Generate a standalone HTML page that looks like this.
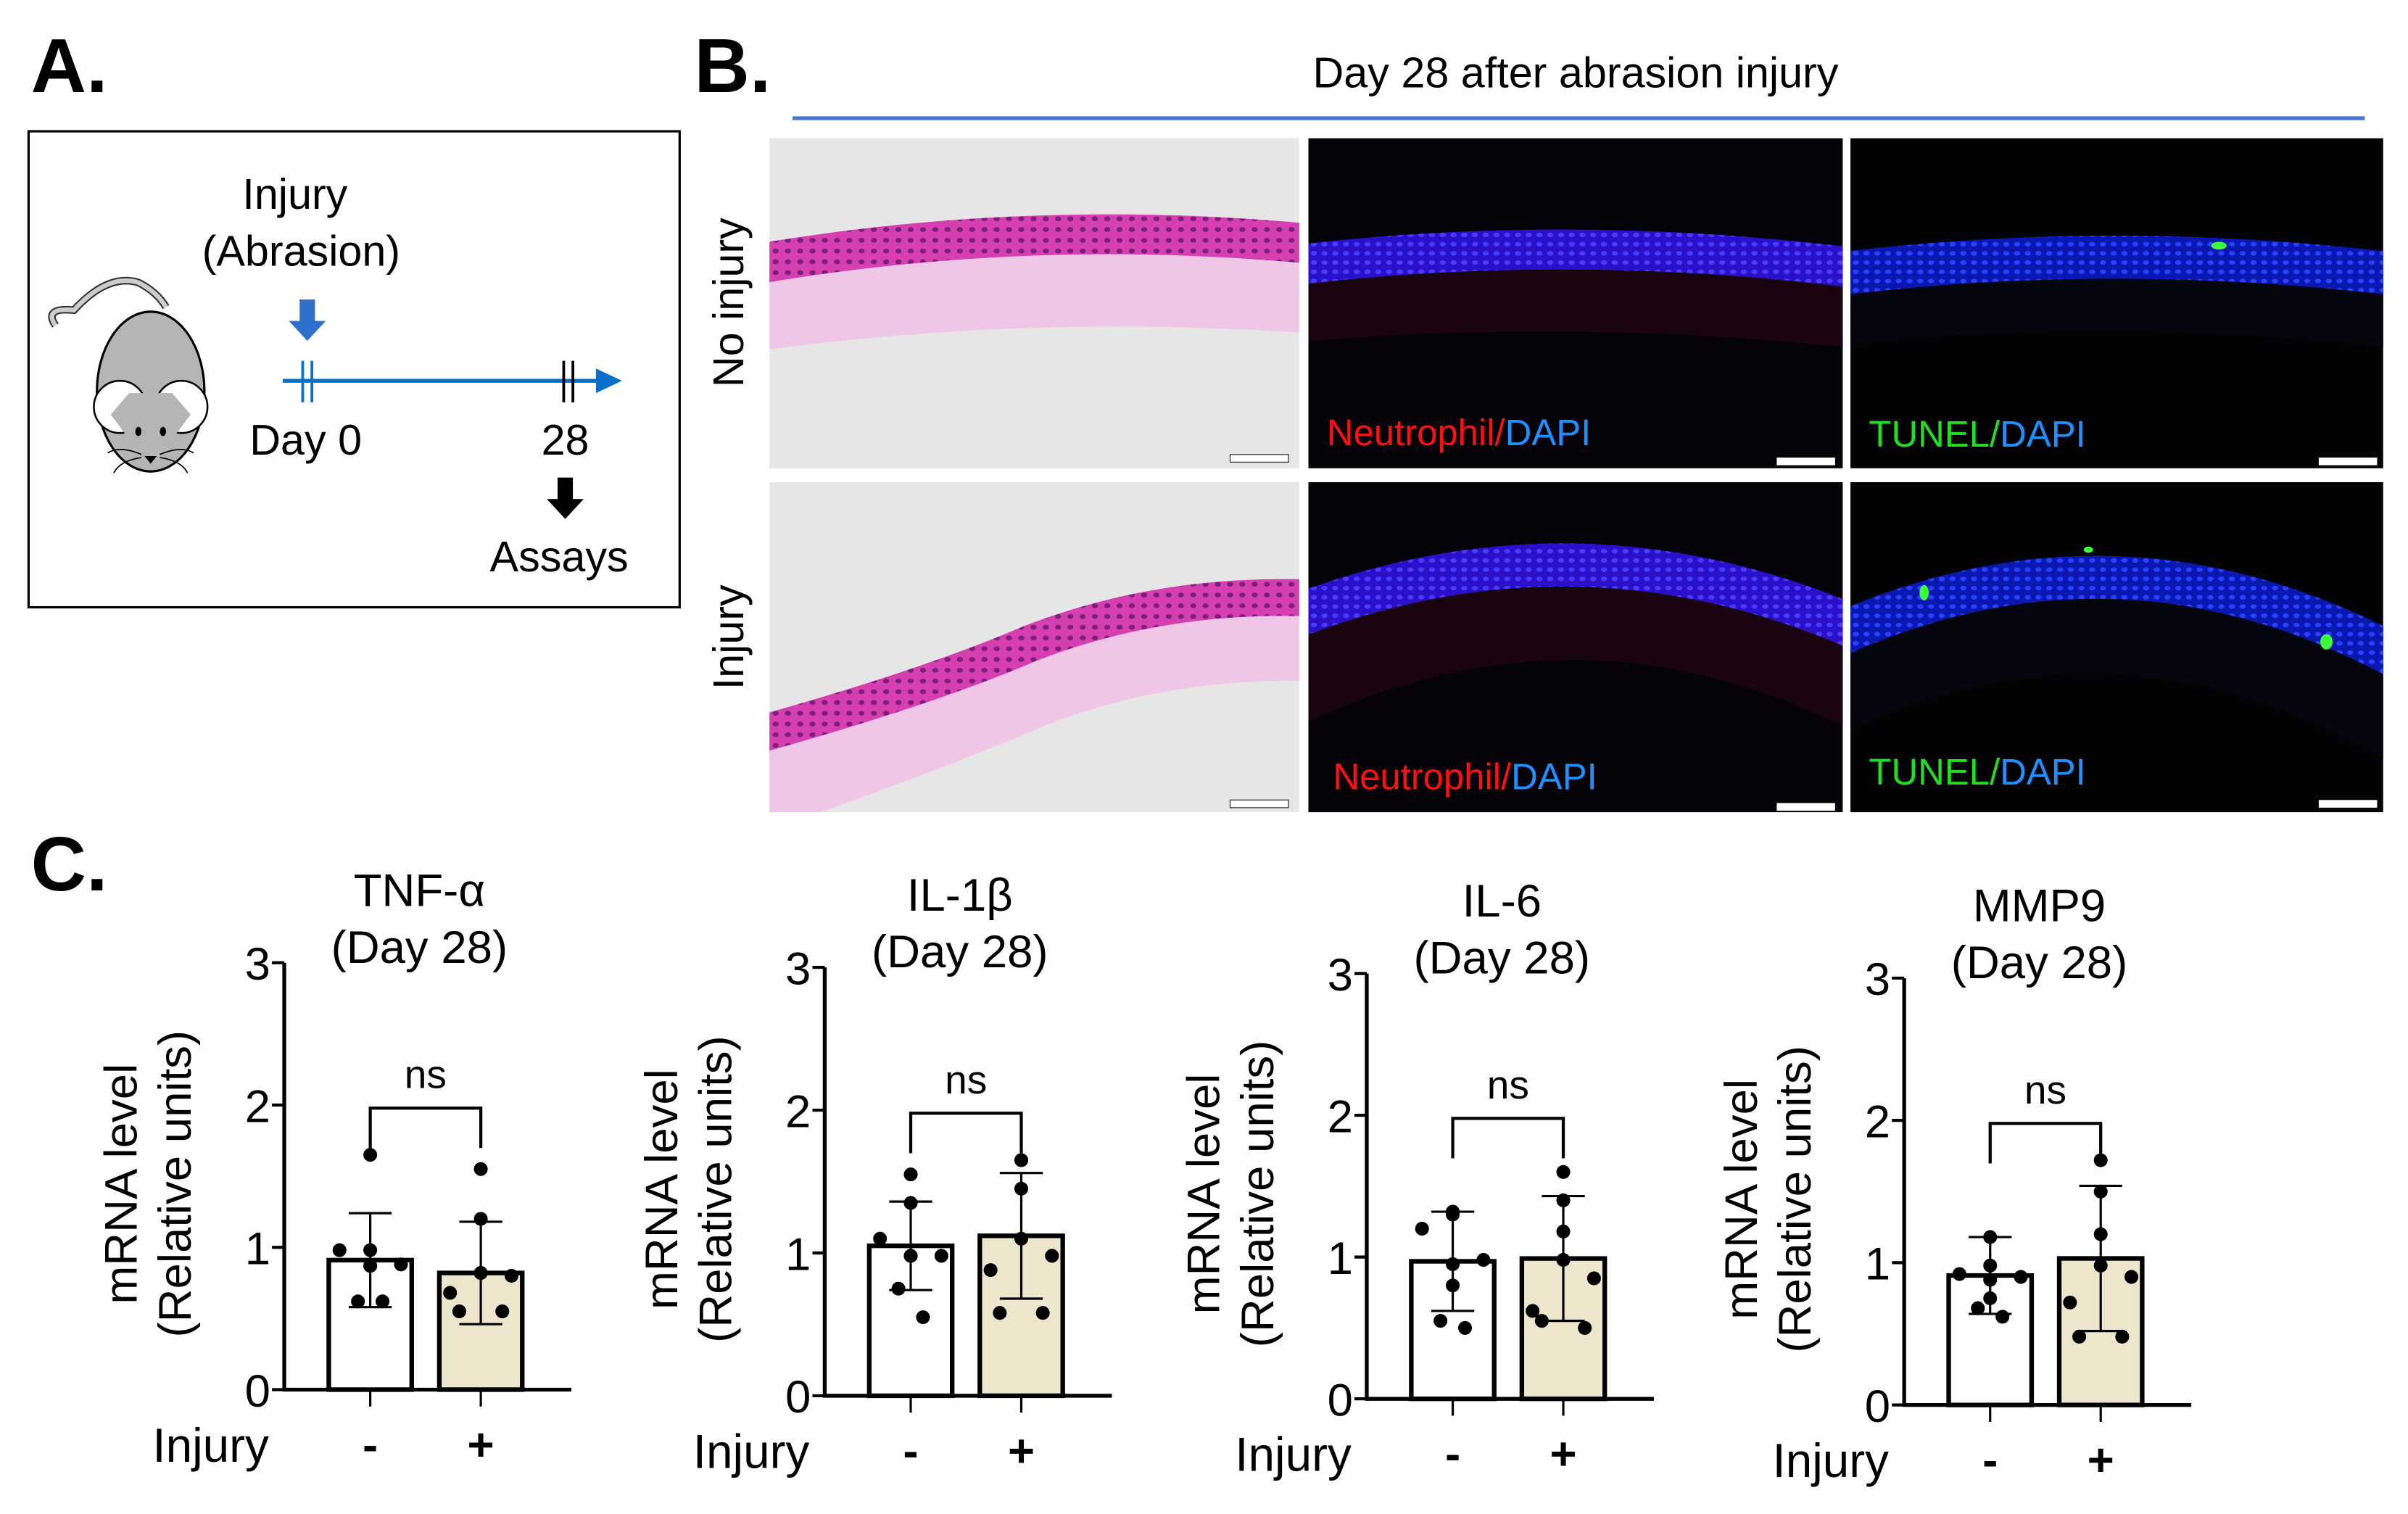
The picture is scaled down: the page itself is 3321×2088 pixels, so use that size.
<!DOCTYPE html>
<html><head><meta charset="utf-8"><style>
html,body{margin:0;padding:0;background:#fff}
svg{display:block;font-family:"Liberation Sans",Arial,sans-serif}
</style></head><body>
<svg id="fig" width="3321" height="2088" viewBox="0 0 1568 986" xmlns="http://www.w3.org/2000/svg">
<defs>
<pattern id="nucP" width="8" height="7" patternUnits="userSpaceOnUse"><rect width="8" height="7" fill="#d63fb0"/><ellipse cx="4" cy="3.5" rx="2" ry="1.6" fill="#7a1f7a"/></pattern>
<pattern id="nucB" width="7" height="6" patternUnits="userSpaceOnUse"><rect width="7" height="6" fill="#2a10c8"/><ellipse cx="3.5" cy="3" rx="2" ry="1.5" fill="#4a3cff"/></pattern>
<pattern id="nucB2" width="7" height="6" patternUnits="userSpaceOnUse"><rect width="7" height="6" fill="#0a18b0"/><ellipse cx="3.5" cy="3" rx="2" ry="1.5" fill="#2a40ff"/></pattern>
</defs>

<!-- Panel A -->
<text x="20" y="60" font-size="50" font-weight="bold">A.</text>
<rect x="18.5" y="85.5" width="424" height="310" fill="none" stroke="#000" stroke-width="1.5"/>
<g>
<path d="M36,212 Q28,200 48,202 Q70,178 90,184 Q102,190 108,200" fill="none" stroke="#333" stroke-width="5"/>
<path d="M36,212 Q28,200 48,202 Q70,178 90,184 Q102,190 108,200" fill="none" stroke="#ccc" stroke-width="3"/>
<ellipse cx="98" cy="255" rx="35" ry="52" fill="#b5b5b5" stroke="#000" stroke-width="1.5"/>
<circle cx="78" cy="265" r="17" fill="#fff" stroke="#000" stroke-width="1.2"/>
<circle cx="118" cy="265" r="17" fill="#fff" stroke="#000" stroke-width="1.2"/>
<path d="M72,270 L98,305 L124,270 L112,256 L84,256 Z" fill="#b5b5b5"/>
<ellipse cx="90" cy="281" rx="2" ry="3" fill="#000"/><ellipse cx="106" cy="281" rx="2" ry="3" fill="#000"/>
<path d="M94,297 L102,297 L98,302 Z" fill="#000"/>
<path d="M92,296 Q78,290 70,295 M92,298 Q78,300 74,308 M104,296 Q118,290 126,295 M104,298 Q118,300 122,308" stroke="#000" fill="none" stroke-width="0.8"/>
</g>
<text x="192" y="136" font-size="28" text-anchor="middle">Injury</text>
<text x="196" y="173" font-size="28" text-anchor="middle">(Abrasion)</text>
<path d="M195,195 h10 v14 h7 l-12,13 l-12,-13 h7 z" fill="#2f6fce"/>
<line x1="184" y1="248" x2="390" y2="248" stroke="#0a6fc7" stroke-width="2.5"/>
<path d="M388,240 L405,248 L388,256 Z" fill="#0a6fc7"/>
<line x1="197" y1="235" x2="197" y2="262" stroke="#0a6fc7" stroke-width="1.8"/><line x1="203" y1="235" x2="203" y2="262" stroke="#0a6fc7" stroke-width="1.8"/>
<line x1="367" y1="235" x2="367" y2="262" stroke="#000" stroke-width="1.8"/><line x1="373" y1="235" x2="373" y2="262" stroke="#000" stroke-width="1.8"/>
<text x="199" y="296" font-size="28" text-anchor="middle">Day 0</text>
<text x="368" y="296" font-size="28" text-anchor="middle">28</text>
<path d="M363,311 h10 v14 h7 l-12,13 l-12,-13 h7 z" fill="#000"/>
<text x="364" y="372" font-size="28" text-anchor="middle">Assays</text>

<!-- Panel B -->
<text x="452" y="60" font-size="50" font-weight="bold">B.</text>
<text x="1026" y="57" font-size="28" text-anchor="middle">Day 28 after abrasion injury</text>
<line x1="516" y1="77" x2="1540" y2="77" stroke="#4a78d4" stroke-width="2.5"/>
<text transform="translate(484,197) rotate(-90)" font-size="28" text-anchor="middle">No injury</text>
<text transform="translate(484,415) rotate(-90)" font-size="28" text-anchor="middle">Injury</text>

<!-- row 1 -->
<svg x="501" y="90" width="345" height="215" overflow="hidden">
<rect width="345" height="215" fill="#e6e6e6"/>
<path d="M-20,112 Q170,85 365,100" stroke="#f0c6e6" stroke-width="56" fill="none"/>
<path d="M-20,84 Q170,50 365,70" stroke="url(#nucP)" stroke-width="26" fill="none"/>
<rect x="300" y="206" width="38" height="5" fill="#fff" stroke="#333" stroke-width="0.6"/>
</svg>
<svg x="852" y="90" width="348" height="215" overflow="hidden">
<rect width="348" height="215" fill="#050208"/>
<path d="M-20,110 Q170,92 368,114" stroke="#1a0410" stroke-width="48" fill="none"/>
<path d="M-20,84 Q170,60 368,86" stroke="url(#nucB)" stroke-width="26" fill="none"/>
<text x="12" y="200" font-size="24"><tspan fill="#ff1010">Neutrophil/</tspan><tspan fill="#1e90ff">DAPI</tspan></text>
<rect x="305" y="208" width="38" height="5" fill="#fff"/>
</svg>
<svg x="1205" y="90" width="347" height="215" overflow="hidden">
<rect width="347" height="215" fill="#030306"/>
<path d="M-20,112 Q170,90 367,114" stroke="#05060e" stroke-width="48" fill="none"/>
<path d="M-20,90 Q170,65 367,90" stroke="url(#nucB2)" stroke-width="28" fill="none"/>
<ellipse cx="240" cy="70" rx="5" ry="2.5" fill="#3cff3c"/>
<text x="12" y="201" font-size="24"><tspan fill="#20e020">TUNEL/</tspan><tspan fill="#1e90ff">DAPI</tspan></text>
<rect x="305" y="208" width="38" height="5" fill="#fff"/>
</svg>
<!-- row 2 -->
<svg x="501" y="314" width="345" height="215" overflow="hidden">
<rect width="345" height="215" fill="#e6e6e6"/>
<path d="M-20,202 Q100,160 170,130 Q260,95 365,100" stroke="#f0c6e6" stroke-width="60" fill="none"/>
<path d="M-20,168 Q100,135 170,105 Q260,70 365,76" stroke="url(#nucP)" stroke-width="24" fill="none"/>
<rect x="300" y="207" width="38" height="5" fill="#fff" stroke="#333" stroke-width="0.6"/>
</svg>
<svg x="852" y="314" width="348" height="215" overflow="hidden">
<rect width="348" height="215" fill="#050208"/>
<path d="M-20,135 Q175,40 368,138" stroke="#1a0410" stroke-width="55" fill="none"/>
<path d="M-20,92 Q175,12 368,100" stroke="url(#nucB)" stroke-width="28" fill="none"/>
<text x="16" y="200" font-size="24"><tspan fill="#ff1010">Neutrophil/</tspan><tspan fill="#1e90ff">DAPI</tspan></text>
<rect x="305" y="209" width="38" height="5" fill="#fff"/>
</svg>
<svg x="1205" y="314" width="347" height="215" overflow="hidden">
<rect width="347" height="215" fill="#030306"/>
<path d="M-20,140 Q175,45 367,160" stroke="#05060e" stroke-width="55" fill="none"/>
<path d="M-20,105 Q175,12 367,120" stroke="url(#nucB2)" stroke-width="28" fill="none"/>
<ellipse cx="48" cy="72" rx="3" ry="5" fill="#3cff3c"/><ellipse cx="155" cy="44" rx="3" ry="2" fill="#3cff3c"/><ellipse cx="310" cy="104" rx="4" ry="5" fill="#3cff3c"/>
<text x="12" y="197" font-size="24"><tspan fill="#20e020">TUNEL/</tspan><tspan fill="#1e90ff">DAPI</tspan></text>
<rect x="305" y="207" width="38" height="5" fill="#fff"/>
</svg>

<!-- Panel C -->
<text x="20" y="580" font-size="50" font-weight="bold">C.</text>
<g id="charts"></g>
</svg>
<script>
const chartTitles = ["TNF-\u03b1", "IL-1\u03b2", "IL-6", "MMP9"];
const groupLabels = ["-", "+"];
const yTicks = [0, 1, 2, 3];
const barMeans = [[0.91, 0.82], [1.05, 1.12], [0.97, 0.99], [0.91, 1.03]];
const barSD = [[0.33, 0.36], [0.31, 0.44], [0.35, 0.44], [0.27, 0.51]];
const pointsTNF = [[1.65, 0.98, 0.98, 0.88, 0.87, 0.87, 0.62, 0.62], [1.55, 1.2, 0.82, 0.82, 0.8, 0.68, 0.55, 0.55]];
const pointsIL1 = [[1.55, 1.35, 1.1, 0.98, 0.98, 0.98, 0.75, 0.55], [1.65, 1.65, 1.45, 1.1, 0.98, 0.88, 0.58, 0.58]];
const pointsIL6 = [[1.32, 1.3, 1.2, 0.98, 0.95, 0.8, 0.55, 0.5], [1.6, 1.4, 1.18, 0.98, 0.85, 0.62, 0.55, 0.5]];
const pointsMMP9 = [[1.18, 0.98, 0.92, 0.9, 0.88, 0.75, 0.68, 0.62], [1.72, 1.5, 1.2, 0.98, 0.9, 0.72, 0.48, 0.48]];
const allPoints = [pointsTNF, pointsIL1, pointsIL6, pointsMMP9];
const sigLabels = ["ns", "ns", "ns", "ns"];

// layout (not data)
const layouts = [{ax:185,y0:905,y3:627},{ax:537,y0:909,y3:630},{ax:890,y0:911,y3:634},{ax:1240,y0:915,y3:637}];
const jit8 = [[0,0,-20,20,0,0,-8,8],[0,0,0,0,20,-20,-14,14]];
const NS="http://www.w3.org/2000/svg";
const root=document.getElementById('charts');
function mk(tag,attrs,parent){const e=document.createElementNS(NS,tag);for(const k in attrs)e.setAttribute(k,attrs[k]);(parent||root).appendChild(e);return e;}
chartTitles.forEach((title,ci)=>{
  const L=layouts[ci];
  const g=mk('g',{});
  
  
  const yS=v=>L.y0-(L.y0-L.y3)*v/3;
  const barX=[L.ax+29,L.ax+101], bw=54;
  const xS=i=>barX[i]+bw/2;
  const t1=mk('text',{x:L.ax+88,y:L.y3-37,'font-size':30,'text-anchor':'middle'},g);t1.textContent=title;
  
  
  const t2=mk('text',{x:L.ax+88,y:L.y3,'font-size':30,'text-anchor':'middle'},g);t2.textContent='(Day 28)';
  
  
  const yl=(L.y0+L.y3)/2+5;
  const l1=mk('text',{transform:`translate(${L.ax-96},${yl}) rotate(-90)`,'font-size':30,'text-anchor':'middle'},g);l1.textContent='mRNA level';
  
  
  const l2=mk('text',{transform:`translate(${L.ax-61},${yl}) rotate(-90)`,'font-size':30,'text-anchor':'middle'},g);l2.textContent='(Relative units)';
  
  
  for(let b=0;b<2;b++){
    const m=barMeans[ci][b], sd=barSD[ci][b];
    const r=mk('rect',{x:barX[b],y:yS(m),width:bw,height:yS(0)-yS(m),fill:b?'#ede6cc':'#fff',stroke:'#000','stroke-width':3},g);
    
    
    const e=mk('path',{d:`M${xS(b)},${yS(m-sd)}V${yS(m+sd)}M${xS(b)-14},${yS(m+sd)}h28M${xS(b)-14},${yS(m-sd)}h28`,stroke:'#000','stroke-width':1.5,fill:'none'},g);
    
    
    allPoints[ci][b].forEach((v,pi)=>{
      const c=mk('circle',{cx:xS(b)+jit8[b][pi],cy:yS(v),r:4.5,fill:'#000'},g);
      
      
    });
    const tk=mk('line',{x1:xS(b),y1:L.y0,x2:xS(b),y2:L.y0+11,stroke:'#000','stroke-width':1.5},g);
    
    
    const gl=mk('text',{x:xS(b),y:L.y0+46,'font-size':30,'font-weight':'bold','text-anchor':'middle'},g);gl.textContent=groupLabels[b];
    
    
  }
  const ax=mk('path',{d:`M${L.ax},${L.y3}V${L.y0}H${L.ax+187}`,stroke:'#000','stroke-width':2.5,fill:'none'},g);
  
  
  yTicks.forEach(v=>{
    const tl=mk('line',{x1:L.ax-8,y1:yS(v),x2:L.ax,y2:yS(v),stroke:'#000','stroke-width':2},g);
    
    
    const tt=mk('text',{x:L.ax-9,y:yS(v)+11,'font-size':30,'text-anchor':'end'},g);tt.textContent=v;
    
    
  });
  const il=mk('text',{x:L.ax-10,y:L.y0+47,'font-size':31,'text-anchor':'end'},g);il.textContent='Injury';
  
  
  const by=yS(2)+2, bb=by+26;
  const br=mk('path',{d:`M${xS(0)},${bb}V${by}H${xS(1)}V${bb}`,stroke:'#000','stroke-width':2,fill:'none'},g);
  
  
  const ns=mk('text',{x:(xS(0)+xS(1))/2,y:by-13,'font-size':26,'text-anchor':'middle'},g);ns.textContent=sigLabels[ci];
  
  
});
</script>
</body></html>
